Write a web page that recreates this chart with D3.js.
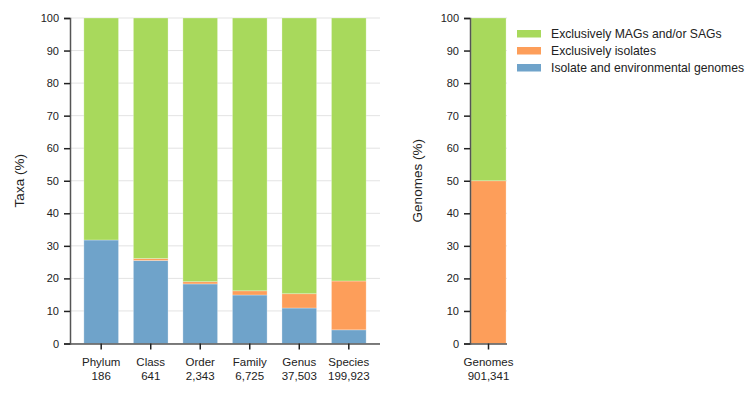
<!DOCTYPE html>
<html>
<head>
<meta charset="utf-8">
<script src="https://cdn.jsdelivr.net/npm/d3@7"></script>
<style>
  body { margin: 0; background: #fff; }
  svg { font-family: "Liberation Sans", Arial, sans-serif; }
  .tick text { font-size: 11px; fill: #222; }
</style>
</head>
<body>
<svg id="chart" width="751" height="397"></svg>
<script>
// taxa panel
var ranks = ["Phylum", "Class", "Order", "Family", "Genus", "Species"],
    rankCounts = ["186", "641", "2,343", "6,725", "37,503", "199,923"],
    bothPct = [31.8, 25.5, 18.3, 14.9, 10.9, 4.2],
    isolatePct = [0, 0.6, 0.7, 1.3, 4.4, 15.0];

// genomes panel
var genomeCats = ["Genomes"],
    genomeCounts = ["901,341"],
    genomeBoth = [0],
    genomeIsolate = [50.0];

var seriesKeys = ["both", "isolate", "mags"],
    seriesNames = ["Isolate and environmental genomes", "Exclusively isolates", "Exclusively MAGs and/or SAGs"],
    seriesColours = ["#6fa3ca", "#fd9e5a", "#a8d95c"];

var svg = d3.select("#chart");
var colour = d3.scaleOrdinal(seriesKeys, seriesColours);

var y = d3.scaleLinear().domain([0, 100]).range([343.5, 18]);

function buildRows(cats, counts, both, iso) {
  return cats.map(function(c, i) {
    return {cat: c, count: counts[i], both: both[i], isolate: iso[i], mags: 100 - both[i] - iso[i]};
  });
}

function panel(rows, x0, x1, padIn, padOut, title, titleX) {
  var x = d3.scaleBand()
    .domain(rows.map(function(d) { return d.cat; }))
    .range([x0, x1])
    .paddingInner(padIn)
    .paddingOuter(padOut);

  var g = svg.append("g");

  // grid
  g.append("g")
    .selectAll("line")
    .data(y.ticks(10))
    .enter().append("line")
    .attr("x1", x0).attr("x2", x1)
    .attr("y1", function(d) { return y(d); })
    .attr("y2", function(d) { return y(d); })
    .attr("stroke", "#e3e3e3")
    .attr("stroke-width", 1);

  var stacked = d3.stack().keys(seriesKeys)(rows);

  g.append("g")
    .selectAll("g")
    .data(stacked)
    .enter().append("g")
    .attr("fill", function(d) { return colour(d.key); })
    .selectAll("rect")
    .data(function(d) { return d; })
    .enter().append("rect")
    .attr("x", function(d) { return x(d.data.cat); })
    .attr("width", x.bandwidth())
    .attr("y", function(d) { return y(d[1]); })
    .attr("height", function(d) { return y(d[0]) - y(d[1]); })
    .attr("stroke", "#fff")
    .attr("stroke-opacity", 0.35)
    .attr("stroke-width", 0.8);

  // y axis
  var ya = g.append("g")
    .attr("transform", "translate(" + x0 + ",0)")
    .call(d3.axisLeft(y).ticks(10).tickSize(6).tickPadding(5));
  ya.select(".domain").attr("stroke", "#555").attr("stroke-width", 1.5);
  ya.selectAll(".tick line").attr("stroke", "#222").attr("stroke-width", 1.5);

  // x axis
  var xa = g.append("g")
    .attr("transform", "translate(0," + y(0) + ")")
    .call(d3.axisBottom(x).tickSize(6).tickSizeOuter(0));
  xa.select(".domain").attr("stroke", "#555").attr("stroke-width", 1.5)
    .attr("d", "M" + x0 + ",0.5H" + x1);
  xa.selectAll(".tick line").attr("stroke", "#222").attr("stroke-width", 1.5);
  xa.selectAll(".tick text").remove();
  xa.selectAll(".tick").each(function(c) {
    var row = rows.find(function(r) { return r.cat === c; });
    var t = d3.select(this).append("text")
      .attr("fill", "#222")
      .attr("text-anchor", "middle")
      .style("font-size", "11.5px");
    t.append("tspan").attr("x", 0).attr("y", 22).text(row.cat);
    t.append("tspan").attr("x", 0).attr("y", 36).text(row.count);
  });

  svg.append("text")
    .attr("transform", "translate(" + titleX + "," + ((y(0) + y(100)) / 2) + ") rotate(-90)")
    .attr("text-anchor", "middle")
    .attr("dy", "0.35em")
    .style("font-size", "13.5px")
    .attr("fill", "#222")
    .text(title);
}

panel(buildRows(ranks, rankCounts, bothPct, isolatePct), 70, 380, 0.3, 0.28, "Taxa (%)", 19);
panel(buildRows(genomeCats, genomeCounts, genomeBoth, genomeIsolate), 470, 507, 0.05, 0.02, "Genomes (%)", 417);

// legend
var legend = svg.append("g").attr("transform", "translate(517,30)");
var legendOrder = seriesKeys.slice().reverse();
var li = legend.selectAll("g")
  .data(legendOrder)
  .enter().append("g")
  .attr("transform", function(d, i) { return "translate(0," + i * 17 + ")"; });
li.append("rect")
  .attr("width", 24).attr("height", 7.5)
  .attr("fill", function(d) { return colour(d); });
li.append("text")
  .attr("x", 34).attr("y", 4)
  .attr("dy", "0.35em")
  .style("font-size", "12.2px")
  .attr("fill", "#222")
  .text(function(d) { return seriesNames[seriesKeys.indexOf(d)]; });
</script>
</body>
</html>
